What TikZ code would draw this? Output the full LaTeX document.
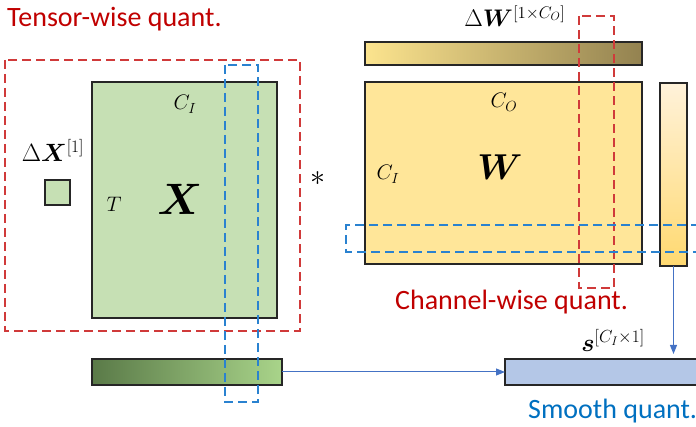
\RequirePackage{fix-cm}
\documentclass[tikz,border=0pt]{standalone}
\usepackage{amsmath,bm}
\usepackage[no-math]{fontspec}
\setmainfont{Carlito}
\usetikzlibrary{arrows.meta}
\definecolor{tred}{HTML}{C00000}
\definecolor{tblue}{HTML}{0070C0}
\definecolor{dred}{HTML}{D03A3A}
\definecolor{dblue}{HTML}{2A82D0}
\definecolor{xgreen}{HTML}{C6E0B4}
\definecolor{gdark}{HTML}{5A7A48}
\definecolor{glight}{HTML}{A9D48A}
\definecolor{wyellow}{HTML}{FFE699}
\definecolor{ylight}{HTML}{FCE48E}
\definecolor{ydark}{HTML}{938250}
\definecolor{vtop}{HTML}{FFF2DA}
\definecolor{vbot}{HTML}{FFD970}
\definecolor{sblue}{HTML}{B4C7E7}
\definecolor{arrblue}{HTML}{4472C4}
\begin{document}
\begin{tikzpicture}[x=1pt,y=-1pt,
  box/.style={draw=black!85,line width=1.4pt,inner sep=0pt,outer sep=0pt,anchor=north west},
  reddash/.style={draw=dred,line width=1.5pt,dash pattern=on 9pt off 5pt},
  bluedash/.style={draw=dblue,line width=1.5pt,dash pattern=on 9pt off 5pt},
  arr/.style={draw=arrblue,line width=1pt,-{Triangle[length=9pt,width=7pt]}},
  lbl/.style={font=\fontsize{28}{30}\selectfont,anchor=base west,inner sep=0pt},
  mth/.style={font=\fontsize{21}{24}\selectfont,anchor=base,inner sep=0pt}]
\useasboundingbox (0,0) rectangle (696,427);

% titles
\node[lbl,text=tred] (tw) at (7,27) {Tensor-wise quant.};
\node[lbl,text=tred] (cw) at (395,310) {Channel-wise quant.};
\node[lbl,text=tblue] (sq) at (528,418) {Smooth quant.};

% X side
\node[box,fill=xgreen,minimum width=185pt,minimum height=236pt] (X) at (92,82) {};
\node[box,fill=xgreen,minimum width=25pt,minimum height=25pt] (dx) at (45,180) {};
\node[mth,font=\fontsize{25}{30}\selectfont] (dxl) at (53,162) {$\Delta\bm{X}^{[1]}$};
\node[mth] (ci1) at (185,110) {$C_I$};
\node[mth] (t) at (114,212) {$T$};
\node[mth,font=\fontsize{44}{50}\selectfont] (xl) at (180,215) {$\bm{X}$};
\node[mth,font=\fontsize{30}{34}\selectfont] (star) at (318,186) {$*$};
\node[box,left color=gdark,right color=glight,minimum width=190pt,minimum height=26pt] (gbar) at (92,359) {};

% W side
\node[box,left color=ylight,right color=ydark,minimum width=277pt,minimum height=23pt] (wbar) at (365,42) {};
\node[mth,font=\fontsize{24}{28}\selectfont] (dwl) at (515,27) {$\Delta\bm{W}^{[1\times C_O]}$};
\node[box,fill=wyellow,minimum width=277pt,minimum height=182pt] (W) at (365,82) {};
\node[mth] (co) at (504,108) {$C_O$};
\node[mth] (ci2) at (388,180) {$C_I$};
\node[mth,font=\fontsize{36}{40}\selectfont] (wl) at (500,180) {$\bm{W}$};
\node[box,top color=vtop,bottom color=vbot,minimum width=27pt,minimum height=183pt] (vbar) at (660,83) {};

% s
\node[box,fill=sblue,minimum width=195pt,minimum height=26pt] (sbar) at (505,359) {};
\node[mth,font=\fontsize{25}{28}\selectfont] (sl) at (613,352) {$\bm{s}^{[C_I\times 1]}$};

% dashed regions
\draw[reddash] (5,60) rectangle (300,331);
\draw[bluedash] (225,65) rectangle (258,402);
\draw[reddash] (579,16) rectangle (614,288);
\draw[bluedash] (700,225) -- (346,225) -- (346,252) -- (700,252);

% connectors
\draw[arr] (gbar.east) -- (sbar.west);
\draw[arr,shorten >=5pt] (vbar.south) -- (vbar.south |- sbar.north);
\end{tikzpicture}
\end{document}
